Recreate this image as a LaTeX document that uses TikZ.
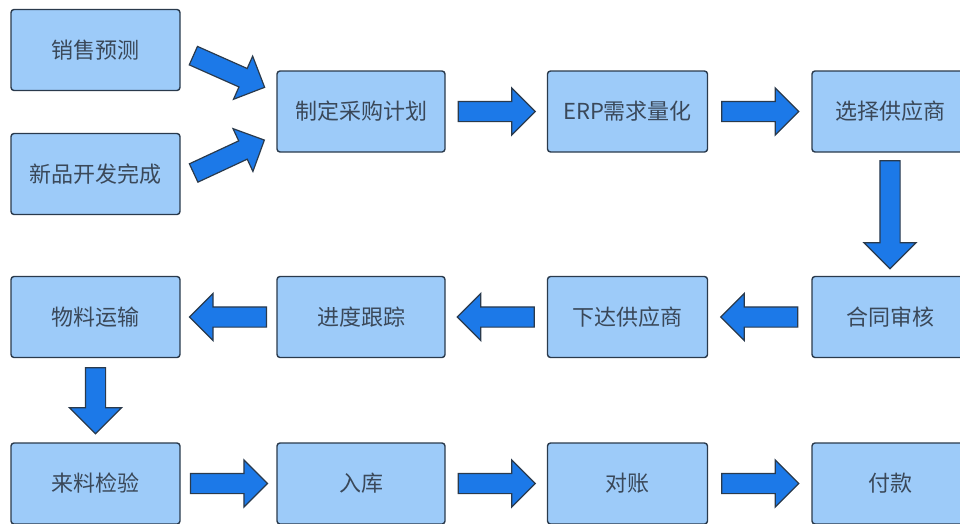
\documentclass[tikz,border=0pt]{standalone}
\usepackage{fontspec}
\setmainfont{Noto Sans CJK SC}
\usetikzlibrary{shapes.arrows}
\definecolor{boxfill}{HTML}{9DCBF9}
\definecolor{boxline}{HTML}{2A3A4C}
\definecolor{boxtext}{HTML}{3A4859}
\definecolor{arrowfill}{HTML}{1C79E8}
\tikzset{
  box/.style={draw=boxline, fill=boxfill, text=boxtext, line width=1.4pt,
    rounded corners=3pt, minimum width=#1, minimum height=81, inner sep=0pt,
    font=\fontsize{22}{26}\selectfont},
  box/.default=169,
  bigarrow/.style={single arrow, draw=boxline, fill=arrowfill, line width=1.2pt,
    minimum width=0pt, minimum height=#1, single arrow head extend=13.5pt,
    single arrow head indent=0pt, inner xsep=0pt, inner ysep=9.5pt,
    sloped, allow upside down, midway, xshift=-4.5pt},
  bigarrow/.default=77
}
\begin{document}
\begin{tikzpicture}[x=1pt, y=-1pt]
      \useasboundingbox (0,0) rectangle (960,523);
      \clip (0,0) rectangle (960,523);
      \path
        (95.5,50) node[box] (sales){销售预测}
        (95.5,174) node[box] (newprod){新品开发完成}
        (361,111.5) node[box=168] (plan){制定采购计划}
        (627.5,111.5) node[box=160] (erp){ERP需求量化}
        (890,111.5) node[box=156] (select){选择供应商}
        (890,317) node[box=156] (contract){合同审核}
        (627.5,317) node[box=160] (order){下达供应商}
        (361,317) node[box=168] (track){进度跟踪}
        (95.5,317) node[box] (transport){物料运输}
        (95.5,483.5) node[box] (inspect){来料检验}
        (361,483.5) node[box=168] (store){入库}
        (627.5,483.5) node[box=160] (reconcile){对账}
        (890,483.5) node[box=156] (pay){付款};
      \begin{scope}
        \path (sales.east) -- ([yshift=19pt]plan.west) node[bigarrow=78]{};
        \path ([yshift=-5pt]newprod.east) -- ([yshift=-23pt]plan.west) node[bigarrow=78]{};
        \path (plan) -- (erp) node[bigarrow]{};
        \path (erp) -- (select) node[bigarrow]{};
        \path (select) -- (contract) node[bigarrow=108, single arrow head extend=16pt]{};
        \path (contract) -- (order) node[bigarrow]{};
        \path (order) -- (track) node[bigarrow]{};
        \path (track) -- (transport) node[bigarrow]{};
        \path (transport) -- (inspect) node[bigarrow=66, single arrow head extend=16pt]{};
        \path (inspect) -- (store) node[bigarrow]{};
        \path (store) -- (reconcile) node[bigarrow]{};
        \path (reconcile) -- (pay) node[bigarrow]{};
      \end{scope}
    \end{tikzpicture}
\end{document}
